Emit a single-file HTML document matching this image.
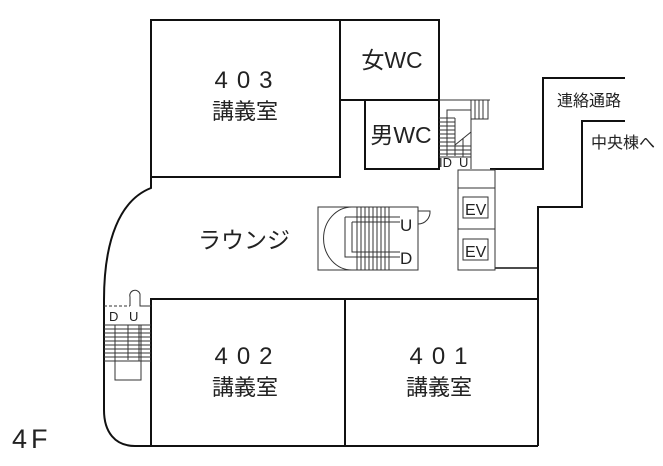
<!DOCTYPE html>
<html><head><meta charset="utf-8"><style>
html,body{margin:0;padding:0;background:#fff;}
svg{display:block;}
text{font-family:"Liberation Sans","Noto Sans CJK JP",sans-serif;fill:#222;}
</style></head><body>
<svg width="663" height="466" viewBox="0 0 663 466" xmlns="http://www.w3.org/2000/svg">
<g fill="none" stroke="#111" stroke-width="2">
<rect x="151" y="20" width="189" height="157"/>
<polyline points="340,20 439,20 439,100 340,100"/>
<rect x="365" y="100" width="74" height="69"/>
<polyline points="490,169 543,169 543,78 625,78"/>
<polyline points="625,121 582,121 582,207 538,207 538,446"/>
<line x1="495" y1="268" x2="538" y2="268" stroke-width="1.5"/>
<path d="M151,177 L151,188 C120,200 104,240 104,300 L104,410 C104,432 115,446 135,446 L538,446"/>
<polyline points="151,446 151,299 538,299"/>
<line x1="345" y1="299" x2="345" y2="446"/>
</g>
<g fill="none" stroke="#333" stroke-width="1">
<line x1="439" y1="100" x2="490" y2="100"/>
<rect x="471" y="100" width="17" height="19"/>
<line x1="475" y1="100" x2="475" y2="119"/><line x1="479" y1="100" x2="479" y2="119"/><line x1="483" y1="100" x2="483" y2="119"/>
<polyline points="447,156 447,110 471,110"/>
<line x1="471" y1="119" x2="471" y2="169"/>
<line x1="455" y1="118" x2="455" y2="156"/>
<path d="M439,118 H455 M439,122 H455 M439,126 H455 M439,130 H455 M439,134 H455 M439,138 H455 M439,142 H455 M439,146 H455 M439,150 H455 M439,154 H455"/>
<line x1="455" y1="145" x2="471" y2="132"/>
<path d="M455,146 H471 M455,150 H471 M455,154 H471 M439,157 H471 M463,138 V157"/>
<rect x="458" y="170" width="37" height="100"/>
<line x1="458" y1="188" x2="495" y2="188"/>
<line x1="458" y1="229" x2="495" y2="229"/>
<rect x="463" y="197" width="25" height="21"/>
<rect x="463" y="239" width="25" height="21"/>
<rect x="318" y="207" width="100" height="63"/>
<path d="M352,207 A28,31 0 0 0 352,270"/>
<path d="M345,217 V257 H400 M345,217 H400 M352,222 V252 H400 M352,222 H400"/>
<path d="M357,207V270M361,207V270M365,207V270M369,207V270M373,207V270M377,207V270M381,207V270M385,207V270M389,207V270"/>
<path d="M418,211 H430 A12,12 0 0 1 418,224"/>
<line x1="104" y1="306" x2="130" y2="306" stroke-dasharray="3,2"/>
<path d="M130,306 V297 A5,5 0 0 1 140,294 L140,306 H151"/>
<path d="M104,325H151M104,329H151M104,333H151M104,337H151M104,341H151M104,345H151M104,349H151M104,353H151M104,357H151M104,361H151"/>
<path d="M115,325V380H141V325 M128,325V360 M139,325V361"/>
</g>
<g>
<text x="439" y="167" font-size="13">ID</text>
<text x="459" y="167" font-size="13">U</text>
<text x="465" y="215" font-size="16">EV</text>
<text x="465" y="257" font-size="16">EV</text>
<text x="400" y="231" font-size="17">U</text>
<text x="400" y="264" font-size="17">D</text>
<text x="109" y="321" font-size="13">D</text>
<text x="129" y="321" font-size="13">U</text>
</g>
<g text-anchor="middle">
<text x="248" y="88" font-size="24" letter-spacing="9">403</text>
<text x="245" y="119" font-size="22">講義室</text>
<text x="248" y="364" font-size="24" letter-spacing="9">402</text>
<text x="245" y="395" font-size="22">講義室</text>
<text x="443" y="364" font-size="24" letter-spacing="9">401</text>
<text x="439" y="395" font-size="22">講義室</text>
<text x="392" y="68" font-size="23">女WC</text>
<text x="401" y="143" font-size="23">男WC</text>
<text x="244" y="248" font-size="23">ラウンジ</text>
</g>
<text x="557" y="106" font-size="16">連絡通路</text>
<text x="591" y="148" font-size="16">中央棟へ</text>
<text x="12" y="448" font-size="27" letter-spacing="4">4F</text>
</svg>
</body></html>
